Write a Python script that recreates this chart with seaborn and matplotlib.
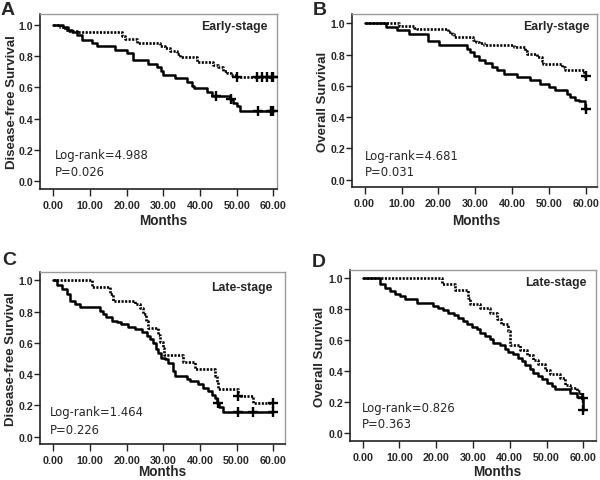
import numpy as np
import matplotlib
matplotlib.use('Agg')
import matplotlib.pyplot as plt
import seaborn as sns

# ---------------- data ----------------
months_ticks = [0, 10, 20, 30, 40, 50, 60]
month_labels = ["0.00", "10.00", "20.00", "30.00", "40.00", "50.00", "60.00"]
surv_ticks = [0.0, 0.2, 0.4, 0.6, 0.8, 1.0]
surv_labels = ["0.0", "0.2", "0.4", "0.6", "0.8", "1.0"]

panel_letters = ["A", "B", "C", "D"]
ylabels = ["Disease-free Survival", "Overall Survival", "Disease-free Survival", "Overall Survival"]
stage_labels = ["Early-stage", "Early-stage", "Late-stage", "Late-stage"]
logrank_texts = ["Log-rank=4.988", "Log-rank=4.681", "Log-rank=1.464", "Log-rank=0.826"]
p_texts = ["P=0.026", "P=0.031", "P=0.226", "P=0.363"]

# Panel A (disease-free, early stage)
A_solid_t = [0, 2.7, 4.1, 5.0, 6.4, 7.7, 10.5, 11.8, 16.8, 20.0, 21.8, 25.9, 28.2, 29.5, 30.0,
             33.2, 36.4, 37.7, 38.4, 41.8, 43.2, 48.2, 49.1, 50.0, 51.0, 60.0]
A_solid_s = [1.0, 0.985, 0.968, 0.953, 0.936, 0.906, 0.887, 0.868, 0.842, 0.819, 0.774, 0.750, 0.729,
             0.706, 0.680, 0.659, 0.633, 0.612, 0.595, 0.574, 0.548, 0.527, 0.501, 0.480, 0.446, 0.446]
A_solid_cens = [44.5, 48.4, 55.9, 59.4, 60.0]
A_dot_t = [0, 1.8, 3.2, 4.1, 6.5, 18.6, 19.5, 22.7, 29.1, 30.5, 31.8, 33.6, 34.5, 39.1, 43.6,
           44.9, 46.4, 47.3, 48.5, 49.5, 60.0]
A_dot_s = [1.0, 0.985, 0.970, 0.962, 0.953, 0.932, 0.910, 0.887, 0.868, 0.850, 0.836, 0.815, 0.793,
           0.765, 0.746, 0.729, 0.708, 0.693, 0.680, 0.667, 0.667]
A_dot_cens = [50.0, 55.5, 56.8, 58.2, 59.6, 60.0]

# Panel B (overall, early stage)
B_solid_t = [0, 5.9, 8.9, 12.1, 17.1, 20.2, 27.6, 28.6, 29.5, 30.9, 32.7, 34.5, 35.8, 37.6, 41.2,
             44.9, 47.6, 49.8, 51.6, 54.8, 55.7, 57.0, 58.0, 59.7, 60.0]
B_solid_s = [1.0, 0.979, 0.957, 0.930, 0.887, 0.860, 0.838, 0.813, 0.790, 0.768, 0.745, 0.723, 0.700,
             0.678, 0.657, 0.634, 0.613, 0.591, 0.570, 0.549, 0.528, 0.510, 0.500, 0.453, 0.453]
B_solid_cens = [60.0]
B_dot_t = [0, 9.2, 13.3, 14.2, 22.7, 23.6, 24.3, 29.3, 30.2, 31.0, 32.2, 40.5, 43.5, 43.9, 46.7,
           48.0, 48.4, 53.4, 54.3, 59.5, 60.0]
B_dot_s = [1.0, 0.980, 0.968, 0.960, 0.947, 0.930, 0.912, 0.894, 0.883, 0.872, 0.862, 0.845, 0.824,
           0.803, 0.781, 0.760, 0.739, 0.718, 0.700, 0.664, 0.664]
B_dot_cens = [60.0]

# Panel C (disease-free, late stage)
C_solid_t = [0, 1.1, 2.3, 3.6, 4.5, 5.9, 7.3, 12.7, 13.6, 14.5, 15.9, 17.3, 18.6, 20.5, 22.3, 24.1,
             25.5, 26.4, 27.3, 28.0, 28.6, 29.5, 30.5, 31.4, 32.7, 33.2, 36.4, 37.3, 39.5, 40.9,
             42.3, 43.2, 44.1, 44.7, 45.3, 46.4, 60.0]
C_solid_s = [1.0, 0.968, 0.946, 0.914, 0.871, 0.849, 0.828, 0.806, 0.785, 0.763, 0.742, 0.731, 0.720,
             0.699, 0.688, 0.667, 0.645, 0.624, 0.602, 0.559, 0.538, 0.505, 0.495, 0.473, 0.419,
             0.387, 0.366, 0.355, 0.334, 0.312, 0.290, 0.269, 0.247, 0.215, 0.190, 0.158, 0.158]
C_solid_cens = [44.9, 50.5, 54.5, 60.0]
C_dot_t = [0, 10.5, 15.5, 16.4, 22.3, 23.6, 24.5, 25.2, 25.8, 28.6, 29.2, 29.8, 30.3, 35.5, 38.6,
           44.1, 44.6, 45.0, 50.3, 54.5, 60.0]
C_dot_s = [1.0, 0.957, 0.913, 0.870, 0.848, 0.826, 0.783, 0.739, 0.696, 0.652, 0.609, 0.565, 0.522,
           0.478, 0.435, 0.391, 0.348, 0.304, 0.261, 0.217, 0.217]
C_dot_cens = [50.5, 60.0]

# Panel D (overall, late stage)
D_solid_t = [0, 4.7, 6.1, 7.4, 8.8, 10.2, 11.5, 14.7, 19.2, 20.6, 21.9, 23.3, 24.7, 26.0, 27.4, 28.3,
             29.6, 31.0, 31.9, 33.3, 34.6, 35.5, 37.4, 38.7, 39.6, 41.0, 42.3, 43.2, 44.2, 45.5,
             46.4, 47.8, 48.7, 50.0, 51.4, 52.3, 56.4, 58.2, 59.6, 59.9, 60.0]
D_solid_s = [1.0, 0.965, 0.940, 0.918, 0.900, 0.885, 0.868, 0.842, 0.821, 0.806, 0.793, 0.773, 0.760,
             0.741, 0.726, 0.706, 0.687, 0.670, 0.648, 0.626, 0.605, 0.583, 0.566, 0.545, 0.525,
             0.508, 0.486, 0.464, 0.436, 0.410, 0.389, 0.367, 0.346, 0.324, 0.302, 0.281, 0.255,
             0.233, 0.216, 0.147, 0.147]
D_solid_cens = [60.0]
D_dot_t = [0, 21.7, 25.0, 28.7, 29.3, 32.0, 34.6, 36.4, 37.5, 39.5, 40.1, 42.8, 44.6, 46.4, 47.8,
           49.6, 50.9, 53.7, 55.0, 56.3, 58.2, 59.1, 59.6, 60.0]
D_dot_s = [1.0, 0.965, 0.922, 0.870, 0.831, 0.810, 0.777, 0.734, 0.701, 0.660, 0.571, 0.533, 0.506,
           0.474, 0.442, 0.409, 0.377, 0.355, 0.312, 0.290, 0.268, 0.247, 0.222, 0.222]
D_dot_cens = [60.0]

curves = [
    ((A_solid_t, A_solid_s, A_solid_cens), (A_dot_t, A_dot_s, A_dot_cens)),
    ((B_solid_t, B_solid_s, B_solid_cens), (B_dot_t, B_dot_s, B_dot_cens)),
    ((C_solid_t, C_solid_s, C_solid_cens), (C_dot_t, C_dot_s, C_dot_cens)),
    ((D_solid_t, D_solid_s, D_solid_cens), (D_dot_t, D_dot_s, D_dot_cens)),
]

# ---------------- layout (pixels) ----------------
W, H = 600, 481
layout = [
    dict(box=(40, 15, 277, 190), xlim=(-3.63, 61.0), ylim=(-0.051, 1.071), letter=(1, 15),
         ylab_x=12, xlab=(163, 221), stage=(268, 27), lr=(55, 155, 172)),
    dict(box=(352, 15, 597, 188), xlim=(-3.41, 62.9), ylim=(-0.047, 1.059), letter=(313, 15),
         ylab_x=323, xlab=(476, 221), stage=(590, 27), lr=(365, 157, 172)),
    dict(box=(40, 273, 285, 445), xlim=(-3.63, 63.2), ylim=(-0.047, 1.054), letter=(2, 265),
         ylab_x=11, xlab=(162, 472), stage=(272, 288), lr=(50, 413, 430)),
    dict(box=(350, 271, 596, 442), xlim=(-3.45, 63.45), ylim=(-0.054, 1.054), letter=(312, 267),
         ylab_x=320, xlab=(497, 472), stage=(586, 283), lr=(362, 409, 424)),
]

sns.set_style('ticks')
plt.rcParams['font.family'] = ['Liberation Sans', 'DejaVu Sans']

fig = plt.figure(figsize=(6.0, 4.81), dpi=100)
fig.patch.set_facecolor('white')


def fx(x):
    return x / W


def fy(y):
    return 1 - y / H


def step_value(t, s, c):
    i = np.searchsorted(np.asarray(t), c, side='right') - 1
    return s[i]


for k, lay in enumerate(layout):
    l, t, r, b = lay['box']
    ax = fig.add_axes([fx(l), fy(b), (r - l) / W, (b - t) / H])
    ax.set_facecolor('white')
    (st, ss, sc), (dt, ds, dc) = curves[k]

    sns.lineplot(x=st, y=ss, drawstyle='steps-post', color='black', lw=1.8,
                 estimator=None, sort=False, ax=ax)
    sns.lineplot(x=dt, y=ds, drawstyle='steps-post', color='black', lw=1.9,
                 estimator=None, sort=False, ax=ax)
    ax.lines[-1].set_linestyle((0, (0.8, 0.55)))

    for (tt, s_, cc) in ((st, ss, sc), (dt, ds, dc)):
        cy = [step_value(tt, s_, c) for c in cc]
        sns.scatterplot(x=cc, y=cy, marker='+', s=55, color='black', linewidth=1.7,
                        ax=ax, zorder=4, legend=False)

    ax.set_xlim(*lay['xlim'])
    ax.set_ylim(*lay['ylim'])
    ax.set_xticks(months_ticks, month_labels, fontweight='bold', fontsize=7.7)
    ax.set_yticks(surv_ticks, surv_labels, fontweight='bold', fontsize=7.6)
    ax.tick_params(axis='x', length=5, width=1, pad=3, direction='out', color='#222222')
    ax.tick_params(axis='y', length=4, width=1, pad=1, direction='out', color='#222222')
    ax.set_xlabel('')
    ax.set_ylabel('')
    for side in ('left', 'bottom'):
        ax.spines[side].set_visible(True)
        ax.spines[side].set_color('#222222')
        ax.spines[side].set_linewidth(1.2)
    for side in ('top', 'right'):
        ax.spines[side].set_visible(True)
        ax.spines[side].set_color('#9a9a9a')
        ax.spines[side].set_linewidth(1.0)
    ax.grid(False)

    fig.text(fx(lay['letter'][0]), fy(lay['letter'][1]), panel_letters[k], fontsize=14,
             fontweight='bold', ha='left', va='baseline')
    fig.text(fx(lay['ylab_x']), fy((t + b) / 2), ylabels[k], rotation=90, fontsize=9.5,
             fontweight='bold', ha='center', va='center')
    fig.text(fx(lay['xlab'][0]), fy(lay['xlab'][1]), 'Months', fontsize=9.8,
             fontweight='bold', ha='center', va='center')
    fig.text(fx(lay['stage'][0]), fy(lay['stage'][1]), stage_labels[k], fontsize=8.8,
             fontweight='bold', ha='right', va='center')
    fig.text(fx(lay['lr'][0]), fy(lay['lr'][1]), logrank_texts[k], fontsize=8.4,
             family='DejaVu Sans', ha='left', va='center')
    fig.text(fx(lay['lr'][0]), fy(lay['lr'][2]), p_texts[k], fontsize=8.4,
             family='DejaVu Sans', ha='left', va='center')

fig.savefig('out.png', dpi=100, facecolor='white')
